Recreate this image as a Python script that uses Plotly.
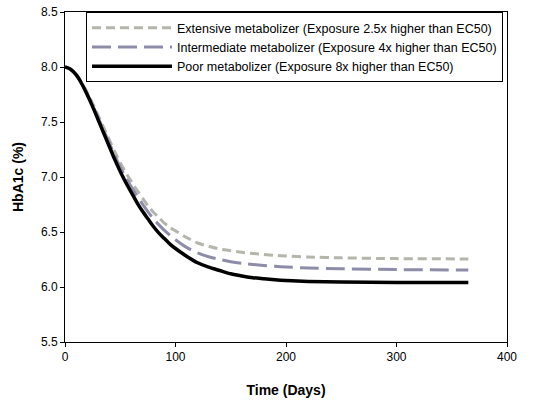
import plotly.graph_objects as go

days = [0, 5, 10, 15, 20, 25, 30, 35, 40, 45, 50, 55, 60, 65, 70, 75, 80, 85, 90, 95,
        100, 110, 120, 130, 140, 150, 160, 170, 180, 190, 200, 220, 250, 300, 365]

extensive = [8.00, 7.98, 7.935, 7.86, 7.77, 7.67, 7.56, 7.45, 7.34, 7.23, 7.13, 7.04,
             6.96, 6.88, 6.81, 6.74, 6.68, 6.63, 6.58, 6.54, 6.51, 6.45, 6.40, 6.37,
             6.345, 6.33, 6.315, 6.305, 6.295, 6.288, 6.282, 6.273, 6.265, 6.258, 6.255]
intermediate = [8.00, 7.98, 7.932, 7.855, 7.76, 7.655, 7.54, 7.425, 7.31, 7.195, 7.09,
                6.995, 6.91, 6.83, 6.755, 6.685, 6.62, 6.565, 6.515, 6.47, 6.43, 6.36,
                6.31, 6.275, 6.25, 6.23, 6.215, 6.205, 6.195, 6.188, 6.182, 6.173, 6.166,
                6.158, 6.155]
poor = [8.00, 7.98, 7.93, 7.85, 7.75, 7.64, 7.52, 7.40, 7.28, 7.16, 7.05, 6.95, 6.86,
        6.77, 6.69, 6.62, 6.55, 6.49, 6.44, 6.39, 6.35, 6.28, 6.22, 6.18, 6.15, 6.12,
        6.10, 6.085, 6.075, 6.065, 6.058, 6.05, 6.045, 6.04, 6.04]

names = [
    "Extensive metabolizer (Exposure 2.5x higher than EC50)",
    "Intermediate metabolizer (Exposure 4x higher than EC50)",
    "Poor metabolizer (Exposure 8x higher than EC50)",
]

FONT = "Liberation Sans, Arial, sans-serif"

fig = go.Figure()
fig.add_trace(go.Scatter(x=days, y=extensive, name=names[0], mode="lines",
                         line=dict(color="#B4B5AB", width=3, dash="9px,5px",
                                   shape="spline", smoothing=0.6)))
fig.add_trace(go.Scatter(x=days, y=intermediate, name=names[1], mode="lines",
                         line=dict(color="#8D8DA9", width=3, dash="19px,7px",
                                   shape="spline", smoothing=0.6)))
fig.add_trace(go.Scatter(x=days, y=poor, name=names[2], mode="lines",
                         line=dict(color="black", width=3.5,
                                   shape="spline", smoothing=0.6)))

axis_style = dict(showline=True, linecolor="black", linewidth=1, mirror=True,
                  ticks="outside", ticklen=4, tickcolor="black", showgrid=False,
                  zeroline=False, tickfont=dict(size=12, color="black"))

fig.update_xaxes(range=[0, 400], dtick=100, **axis_style,
                 title=dict(text="<b>Time (Days)</b>", font=dict(size=14, color="black"),
                            standoff=21))
fig.update_yaxes(range=[5.5, 8.5], dtick=0.5, tickformat=".1f", **axis_style,
                 title=dict(text="<b>HbA1c (%)</b>", font=dict(size=14, color="black"),
                            standoff=14))

fig.update_layout(
    width=539, height=400,
    margin=dict(l=65, r=32, t=12, b=58, autoexpand=False),
    paper_bgcolor="white", plot_bgcolor="white",
    font=dict(family=FONT, size=12, color="black"),
    showlegend=True,
    legend=dict(x=0.0475, y=1.0, xanchor="left", yanchor="top",
                bordercolor="black", borderwidth=1, bgcolor="white",
                font=dict(size=12.5), itemwidth=80, tracegroupgap=0),
)

# drop the default page margin so the figure sits at the window's corner
fig.write_html("out.html", config={"displayModeBar": False},
               post_script="document.body.style.margin='0';")
